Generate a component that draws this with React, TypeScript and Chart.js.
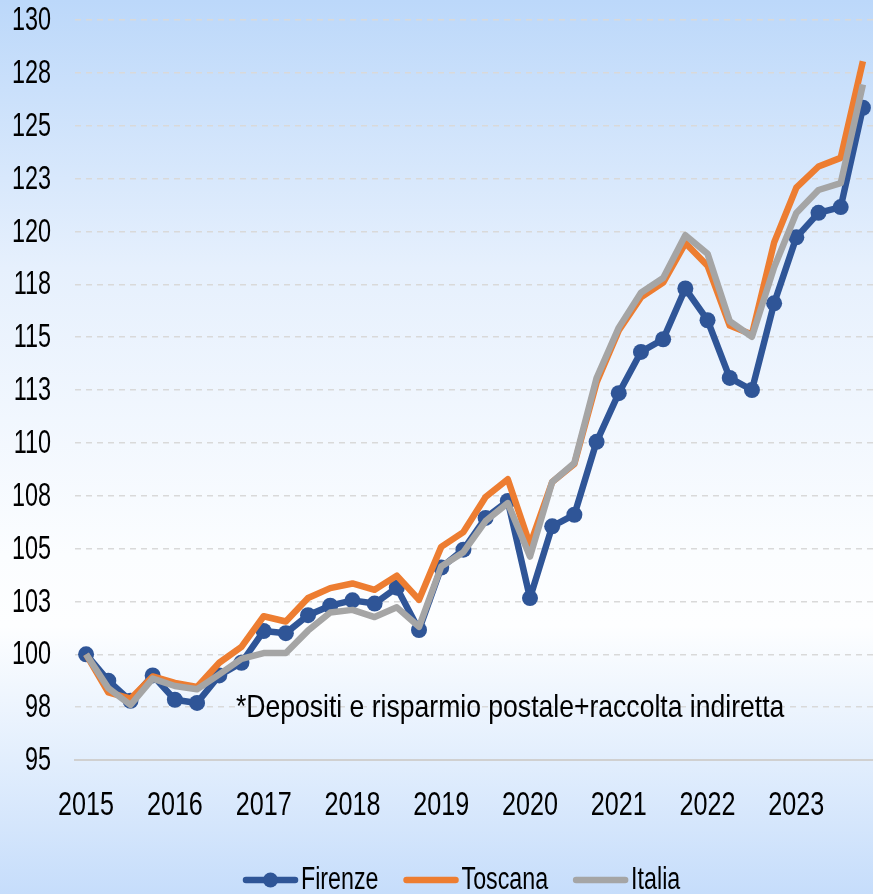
import React, { useEffect, useRef } from 'react';
import { Chart, registerables } from 'chart.js';

Chart.register(...registerables);

const years = ['2015', '2016', '2017', '2018', '2019', '2020', '2021', '2022', '2023'];
const quarters = ['T1', 'T2', 'T3', 'T4'];
const categories = years.flatMap((y) => quarters.map((q) => `${y} ${q}`));

const firenze = [
  100.0, 98.75, 97.8, 99.0, 97.85, 97.7, 99.0, 99.6,
  101.1, 101.0, 101.85, 102.3, 102.55, 102.4, 103.15, 101.15,
  104.1, 104.95, 106.45, 107.25, 102.66, 106.05, 106.6, 110.05,
  112.35, 114.3, 114.9, 117.3, 115.8, 113.07, 112.5, 116.6,
  119.72, 120.88, 121.15, 125.85,
];
const toscana = [
  100.0, 98.2, 97.9, 98.95, 98.65, 98.45, 99.6, 100.35,
  101.8, 101.55, 102.66, 103.13, 103.35, 103.05, 103.72, 102.58,
  105.08, 105.78, 107.44, 108.28, 105.18, 108.15, 109.0, 112.85,
  115.32, 116.88, 117.58, 119.45, 118.38, 115.55, 115.12, 119.48,
  122.07, 123.07, 123.48, 128.05,
];
const italia = [
  100.0, 98.4, 97.6, 98.85, 98.5, 98.35, 99.05, 99.78,
  100.06, 100.06, 101.12, 101.98, 102.1, 101.76, 102.22, 101.3,
  104.15, 104.83, 106.3, 107.15, 104.62, 108.15, 109.05, 113.07,
  115.45, 117.1, 117.8, 119.82, 118.95, 115.75, 115.02, 118.3,
  120.87, 121.96, 122.28, 126.95,
];

const seriesNames = ['Firenze', 'Toscana', 'Italia'];
const seriesColors = ['#2F5597', '#ED7D31', '#A5A5A5'];
const yMin = 95;
const yMax = 130;
const yStep = 2.5;
const note = '*Depositi e risparmio postale+raccolta indiretta';

const FONT = "'Liberation Sans', Arial, sans-serif";

function narrowText(
  ctx: CanvasRenderingContext2D, text: string, x: number, y: number,
  align: CanvasTextAlign, size: number, sx: number,
) {
  ctx.save();
  ctx.translate(x, y);
  ctx.scale(sx, 1);
  ctx.font = `${size}px ${FONT}`;
  ctx.fillStyle = '#000';
  ctx.textAlign = align;
  ctx.textBaseline = 'middle';
  ctx.fillText(text, 0, 0);
  ctx.restore();
}

const overlayPlugin = {
  id: 'overlay',
  afterDraw(chart: any) {
    const ctx: CanvasRenderingContext2D = chart.ctx;
    const xs = chart.scales.x;
    const ys = chart.scales.y;
    ctx.save();

    // y tick labels
    for (let v = yMin; v <= yMax + 1e-9; v += yStep) {
      narrowText(ctx, String(Math.round(v)), 51, ys.getPixelForValue(v) + 1, 'right', 33, 0.71);
    }
    // x tick labels (first quarter of each year)
    categories.forEach((c, idx) => {
      if (idx % 4 === 0) narrowText(ctx, c.slice(0, 4), xs.getPixelForValue(idx), 806, 'center', 34, 0.74);
    });

    // note text
    narrowText(ctx, note, xs.getPixelForValue(6.75), ys.getPixelForValue(97.45), 'left', 32, 0.83);

    // legend
    const cy = 880;
    let x = 243;
    const lineLen = 55;
    const lsx = 0.75;
    chart.data.datasets.forEach((ds: any, i: number) => {
      ctx.strokeStyle = ds.borderColor;
      ctx.lineWidth = 6.5;
      ctx.lineCap = 'round';
      ctx.beginPath();
      ctx.moveTo(x + 3, cy);
      ctx.lineTo(x + lineLen - 3, cy);
      ctx.stroke();
      if (i === 0) {
        ctx.fillStyle = ds.borderColor;
        ctx.beginPath();
        ctx.arc(x + lineLen / 2, cy, 7.5, 0, Math.PI * 2);
        ctx.fill();
      }
      narrowText(ctx, ds.label, x + lineLen + 3, cy, 'left', 31, lsx);
      ctx.font = `31px ${FONT}`;
      const w = ctx.measureText(ds.label).width * lsx;
      x += lineLen + 3 + w + 25;
    });
    ctx.restore();
  },
};

export default function App() {
  const ref = useRef<HTMLCanvasElement | null>(null);
  useEffect(() => {
    if (!ref.current) return;
    const datasets = [firenze, toscana, italia].map((d, i) => ({
      label: seriesNames[i],
      data: d,
      borderColor: seriesColors[i],
      backgroundColor: seriesColors[i],
      borderWidth: 6.5,
      pointRadius: i === 0 ? 8 : 0,
      pointHoverRadius: i === 0 ? 8 : 0,
      pointBorderWidth: 0,
      tension: 0,
      borderJoinStyle: 'round' as const,
      order: 3 - i,
    }));
    const chart = new Chart(ref.current, {
      type: 'line',
      data: { labels: categories, datasets },
      plugins: [overlayPlugin],
      options: {
        animation: false,
        responsive: false,
        maintainAspectRatio: false,
        layout: { padding: { left: 0, right: 2, top: 20, bottom: 0 } },
        plugins: { legend: { display: false }, tooltip: { enabled: false } },
        scales: {
          x: {
            type: 'category',
            offset: true,
            grid: { display: false, drawTicks: false },
            border: { display: true, color: '#D0D0D0', width: 2 },
            afterFit: (s: any) => { s.height = 134; },
            ticks: { display: false, autoSkip: false },
          },
          y: {
            min: yMin,
            max: yMax,
            afterFit: (s: any) => { s.width = 75; },
            grid: { color: '#D9D9D9', lineWidth: 1.5, drawTicks: false },
            border: { display: false, dash: [6, 5] },
            ticks: { display: false, stepSize: yStep },
          },
        },
      },
    });
    return () => chart.destroy();
  }, []);
  return (
    <div
      style={{
        position: 'fixed',
        left: 0,
        top: 0,
        width: 873,
        height: 894,
        overflow: 'hidden',
        background:
          'linear-gradient(to bottom, #bcd8fa 0%, #e6f0fd 30%, #fbfdff 62%, #fdfeff 70%, #e2eefd 85%, #c6ddfb 100%)',
      }}
    >
      <canvas ref={ref} width={882} height={894} style={{ display: 'block', width: 882, height: 894 }} />
    </div>
  );
}
